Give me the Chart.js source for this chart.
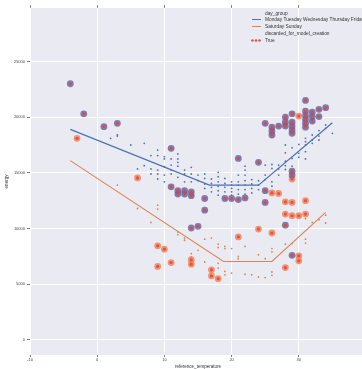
<!DOCTYPE html>
<html>
<head>
<meta charset="utf-8">
<script src="https://cdn.jsdelivr.net/npm/chart.js@4.4.1/dist/chart.umd.min.js"></script>
<style>
  html, body { margin: 0; padding: 0; background: #ffffff; overflow: hidden; }
  canvas { display: block; }
</style>
</head>
<body>
<canvas id="c" width="370" height="369"></canvas>
<script>
// ---------- data ----------
const xTicks = [-10, 0, 10, 20, 30];
const yTicks = [0, 5000, 10000, 15000, 20000, 25000];

const legendTitle1 = "day_group";
const seriesWeekday = "Monday Tuesday Wednesday Thursday Friday";
const seriesWeekend = "Saturday Sunday";
const legendTitle2 = "discarded_for_model_creation";
const discardedLabel = "True";
const xTitle = "reference_temperature";
const yTitle = "energy";

// fitted lines [temperature, energy]
const weekdayLine = [[-4, 18900], [16.7, 13900], [24, 13900], [35, 19500]];
const weekendLine = [[-4, 16100], [18.8, 7050], [26, 7050], [34, 11450]];

// regular observations, weekday
const weekdayDots = [
  [2,18100],[3,18300],[3,18400],[5,17500],[7,17650],[8,16550],[9,17050],[9,16550],
  [6,15350],[7,15650],[8,15350],[8,14900],[9,15250],[9,14900],[9,14450],
  [10,16250],[10,16450],[10,15550],[10,14800],[10,14200],
  [11,16250],[11,15700],[11,15250],[11,14900],
  [12,16700],[12,16250],[12,15950],[12,15600],[12,14600],
  [13,15250],[13,14900],[13,14200],
  [14,15500],[14,14900],[14,14200],
  [15,14800],[15,14300],
  [16,14900],[16,14500],[16,14000],[16,13600],
  [17,14450],[17,14050],[17,13700],[17,13300],
  [18,15050],[18,14650],[18,14200],[18,13800],[18,13400],[18,13000],
  [19,14500],[19,14050],[19,13700],[19,13300],
  [20,14200],[20,13900],[20,13600],[20,13300],[20,13000],
  [21,14800],[21,14200],[21,13900],[21,13500],[21,13100],
  [22,15600],[22,15250],[22,14800],[22,14300],[22,13900],[22,13500],[22,13100],
  [23,14400],[23,14000],[23,13600],[23,13200],
  [24,14300],[24,13900],[24,13500],
  [25,15700],[25,14800],[25,14400],
  [26,15750],[26,15400],[26,14200],[26,13800],
  [27,15700],[27,15350],[27,14800],
  [28,17500],[28,16800],[28,16050],[28,15650],[28,15300],
  [29,17250],[29,16300],[29,15600],
  [30,17550],[30,16750],[30,16400],
  [31,18100],[31,17800],[31,17500],[31,16900],[31,16250],
  [32,18400],[32,17950],[32,17650],
  [33,18800],[33,18300],[33,17950],
  [34,19300],[34,19000],
  [35,18550]
];

// regular observations, weekend
const weekendDots = [
  [3,13900],[6,11800],[8,10550],[9,12100],[9,11750],
  [12,9700],[12,9450],[13,9150],[13,8950],[14,7750],[14,7450],[15,8050],
  [16,9050],[16,7000],[17,9150],[18,8600],[18,8300],[18,6880],[18,6450],
  [19,8400],[19,8200],[19,6150],[19,5850],[20,8200],[20,6000],
  [21,7500],[21,7300],[22,8400],[22,5900],[23,5850],
  [24,7650],[24,5650],[25,7300],[25,5600],
  [26,8200],[26,7900],[26,6100],[26,5800],
  [28,8600],[29,8650],[31,9050],[31,8700],
  [31,10900],[32,10550],[33,10800],[34,11200],[34,10500]
];

// discarded observations, weekday
const weekdayDiscarded = [
  [-4,23000],[-2,20300],[1,19150],[3,19450],[11,17200],[11,13750],
  [12,13400],[12,13100],[13,13400],[13,13100],[14,13300],[14,12950],
  [16,12700],[16,11650],[14,10050],[15,10200],
  [19,12700],[20,12700],[21,12600],[22,12750],[21,16300],[24,15950],
  [25,13400],[25,12350],[28,10300],[29,7600],[29,15150],[29,14800],
  [25,19450],[26,19100],[26,18750],[26,18400],[27,19200],
  [28,20000],[28,19550],[28,19200],
  [29,20300],[29,19550],[29,19200],[29,18850],[29,18550],
  [31,21500],[31,20550],[31,20150],[31,19800],[31,19450],[31,19100],
  [32,20450],[32,20050],[32,19650],[33,20700],[33,20050],[34,20850]
];

// discarded observations, weekend
const weekendDiscarded = [
  [-3,18100],[6,14550],[9,8450],[9,6600],[10,8150],[11,6950],
  [14,7200],[14,6800],[17,6300],[17,5750],[18,5500],
  [21,9250],[24,9950],[26,9600],
  [26,13200],[27,13150],[28,12400],[29,12350],[31,12500],
  [28,11300],[29,11150],[30,11150],[31,11300],
  [29,14450],[30,7550],[30,7100],[28,6500],[30,20100]
];

// ---------- styling ----------
const BLUE = '#4C72B0';
const ORANGE = '#DD8452';
const RED = '#e2453a';
const toXY = arr => arr.map(p => ({x: p[0], y: p[1]}));

const bgPlugin = {
  id: 'bg',
  beforeDraw(chart) {
    const {ctx, chartArea: a} = chart;
    ctx.save();
    ctx.fillStyle = '#EAEAF2';
    ctx.fillRect(a.left, a.top, a.right - a.left, a.bottom - a.top);
    ctx.restore();
  }
};

const legendPlugin = {
  id: 'customLegend',
  afterDraw(chart) {
    const ctx = chart.ctx;
    ctx.save();
    ctx.font = '4.8px "Liberation Sans", Arial, sans-serif';
    ctx.fillStyle = '#333';
    ctx.textBaseline = 'middle';
    ctx.textAlign = 'left';
    const tx = 265;
    ctx.fillText(legendTitle1, tx, 14);
    ctx.strokeStyle = BLUE; ctx.lineWidth = 1;
    ctx.beginPath(); ctx.moveTo(252, 19.5); ctx.lineTo(261, 19.5); ctx.stroke();
    ctx.fillText(seriesWeekday, tx, 19.5);
    ctx.strokeStyle = ORANGE;
    ctx.beginPath(); ctx.moveTo(252, 26.5); ctx.lineTo(261, 26.5); ctx.stroke();
    ctx.fillText(seriesWeekend, tx, 26.5);
    ctx.fillText(legendTitle2, tx, 33.5);
    ctx.fillStyle = RED;
    [252.5, 256, 259.5].forEach(x => { ctx.beginPath(); ctx.arc(x, 40.5, 1.2, 0, Math.PI*2); ctx.fill(); });
    ctx.fillStyle = '#333';
    ctx.fillText(discardedLabel, tx, 40.5);
    ctx.restore();
  }
};

const tickFont = {family: '"Liberation Sans", Arial, sans-serif', size: 4};
const titleFont = {family: '"Liberation Sans", Arial, sans-serif', size: 4.5};
const plain = v => String(v);

new Chart(document.getElementById('c'), {
  type: 'scatter',
  data: {
    datasets: [
      { label: 'discarded-mark', data: toXY(weekdayDiscarded.concat(weekendDiscarded)),
        pointRadius: 1.6, pointBackgroundColor: 'rgba(226,69,58,0.85)', pointBorderWidth: 0, order: 0, xAxisID: 'x', yAxisID: 'y' },
      { label: 'weekday discarded', data: toXY(weekdayDiscarded),
        pointRadius: 3.4, pointBackgroundColor: 'rgba(104,100,160,0.82)', pointBorderWidth: 0, order: 1, xAxisID: 'x', yAxisID: 'y' },
      { label: 'weekend discarded', data: toXY(weekendDiscarded),
        pointRadius: 3.4, pointBackgroundColor: 'rgba(240,130,88,0.82)', pointBorderWidth: 0, order: 1, xAxisID: 'x', yAxisID: 'y' },
      { type: 'line', label: seriesWeekday, data: toXY(weekdayLine), borderColor: BLUE, borderWidth: 1.2,
        pointRadius: 0, fill: false, tension: 0, order: 2, xAxisID: 'x', yAxisID: 'y' },
      { type: 'line', label: seriesWeekend, data: toXY(weekendLine), borderColor: ORANGE, borderWidth: 1.1,
        pointRadius: 0, fill: false, tension: 0, order: 2, xAxisID: 'x', yAxisID: 'y' },
      { label: 'weekday', data: toXY(weekdayDots), pointRadius: 0.9, pointBackgroundColor: BLUE,
        pointBorderWidth: 0, order: 3, xAxisID: 'x', yAxisID: 'y' },
      { label: 'weekend', data: toXY(weekendDots), pointRadius: 0.9, pointBackgroundColor: ORANGE,
        pointBorderWidth: 0, order: 3, xAxisID: 'x', yAxisID: 'y' }
    ]
  },
  options: {
    responsive: false,
    animation: false,
    devicePixelRatio: 1,
    layout: { padding: { left: 0, right: 2, top: 0, bottom: 0 } },
    plugins: { legend: { display: false }, tooltip: { enabled: false } },
    scales: {
      x: {
        type: 'linear', position: 'bottom', min: -10, max: 40,
        afterBuildTicks: s => { s.ticks = xTicks.map(v => ({value: v})); },
        afterFit: s => { s.height = 14; },
        grid: { color: '#ffffff', lineWidth: 1, tickColor: '#777', tickLength: 2, drawTicks: true },
        border: { display: false },
        ticks: { font: tickFont, color: '#444', padding: 0, maxRotation: 0, callback: plain },
        title: { display: true, text: xTitle, font: titleFont, color: '#333', padding: 0 }
      },
      xTop: {
        type: 'linear', axis: 'x', position: 'top', min: -10, max: 40,
        afterBuildTicks: s => { s.ticks = xTicks.map(v => ({value: v})); },
        afterFit: s => { s.height = 8; },
        grid: { drawOnChartArea: false, tickColor: '#888', tickLength: 3, drawTicks: true },
        border: { display: false },
        ticks: { display: false }
      },
      y: {
        type: 'linear', position: 'left', min: -1350, max: 29800,
        afterBuildTicks: s => { s.ticks = yTicks.map(v => ({value: v})); },
        afterFit: s => { s.width = 30; },
        grid: { color: '#ffffff', lineWidth: 1, tickColor: '#777', tickLength: 3, drawTicks: true },
        border: { display: false },
        ticks: { font: tickFont, color: '#444', padding: 2, callback: plain },
        title: { display: true, text: yTitle, font: titleFont, color: '#333', padding: { top: 4, bottom: 0 } }
      }
    }
  },
  plugins: [bgPlugin, legendPlugin]
});
</script>
</body>
</html>
